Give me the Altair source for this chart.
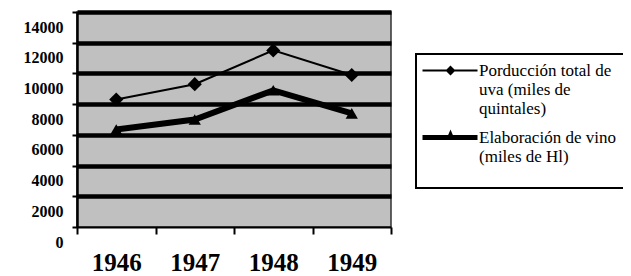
import altair as alt
import pandas as pd

years = ["1946", "1947", "1948", "1949"]
uva = [8300, 9300, 11500, 9900]
vino = [6350, 7000, 8900, 7400]
series = ["Porducción total de|uva (miles de|quintales)", "Elaboración de vino|(miles de Hl)"]
y_ticks = [0, 2000, 4000, 6000, 8000, 10000, 12000, 14000]

df = pd.DataFrame({
    "year": years * 2,
    "value": uva + vino,
    "serie": [series[0]] * len(years) + [series[1]] * len(years),
})

FONT = "Liberation Serif"

x_enc = alt.X(
    "year:O",
    bandPosition=0.5,
    scale=alt.Scale(type="band", paddingInner=0, paddingOuter=0),
    axis=alt.Axis(
        title=None, labelAngle=0, tickBand="extent", grid=False,
        labelFont=FONT, labelFontSize=25, labelFontWeight="bold", labelColor="black",
        domainColor="black", domainWidth=2, tickColor="black", tickWidth=2,
        tickSize=7, labelPadding=16,
    ),
)
y_enc = alt.Y(
    "value:Q",
    scale=alt.Scale(domain=[0, 14000], nice=False),
    axis=alt.Axis(
        title=None, values=y_ticks, format="d", labelOffset=15,
        labelFont=FONT, labelFontSize=16, labelFontWeight="bold", labelColor="black",
        grid=True, gridColor="black", gridWidth=4.5,
        gridOpacity={"condition": {"test": "datum.value === 0", "value": 0}, "value": 1},
        domainColor="black", domainWidth=2.5, tickColor="black", tickWidth=2,
        tickSize=5, labelPadding=9,
    ),
)

# legend symbols drawn as filled outlines: line segment + series marker
path_a = "M-2,-0.2H9V0.2H-2ZM3.6,-1L4.6,0L3.6,1L2.6,0Z"
path_b = "M-2,-0.5H9V0.5H-2ZM3.6,-1.6L4.5,0.5L2.7,0.5Z"

legend = alt.Legend(
    title=" ", titleOrient="bottom", titleFontSize=8, titlePadding=7,
    orient="none", legendX=339, legendY=42, padding=8,
    strokeColor="black",
    labelFont=FONT, labelFontSize=17, labelColor="black",
    labelExpr="split(datum.label, '|')", labelLimit=400,
    symbolSize=100, labelOffset=38, rowPadding=9, labelBaseline="middle",
    symbolFillColor="black", symbolStrokeColor="black", symbolOpacity=1,
)

base = alt.Chart(df)
lines = base.mark_line(color="black").encode(
    x=x_enc, y=y_enc,
    strokeWidth=alt.StrokeWidth("serie:N", scale=alt.Scale(domain=series, range=[2, 6]), legend=None),
)
points = base.mark_point(filled=True, opacity=1, color="black").encode(
    x=x_enc, y=y_enc,
    shape=alt.Shape("serie:N", scale=alt.Scale(domain=series, range=["diamond", "triangle-up"]), legend=None),
    size=alt.Size("serie:N", scale=alt.Scale(domain=series, range=[200, 150]), legend=None),
)
legend_layer = base.transform_filter("false").mark_point(
    filled=True, fill="black", opacity=1
).encode(
    x=x_enc, y=y_enc,
    shape=alt.Shape("serie:N", scale=alt.Scale(domain=series, range=[path_a, path_b]), legend=legend),
)

chart = alt.layer(lines, points, legend_layer).resolve_scale(
    shape="independent"
).properties(
    width=314, height=215,
    autosize="none",
    padding={"left": 69, "top": 4, "right": 232, "bottom": 48},
    background="white",
).configure(
    style={"guide-label": {"lineHeight": 19}}
).configure_view(
    fill="#c0c0c0", stroke="#333333", strokeWidth=1.5
).configure_legend(
    labelFont=FONT, strokeWidth=2
)

chart.save("out.html", embed_options={"renderer": "svg", "actions": False})
